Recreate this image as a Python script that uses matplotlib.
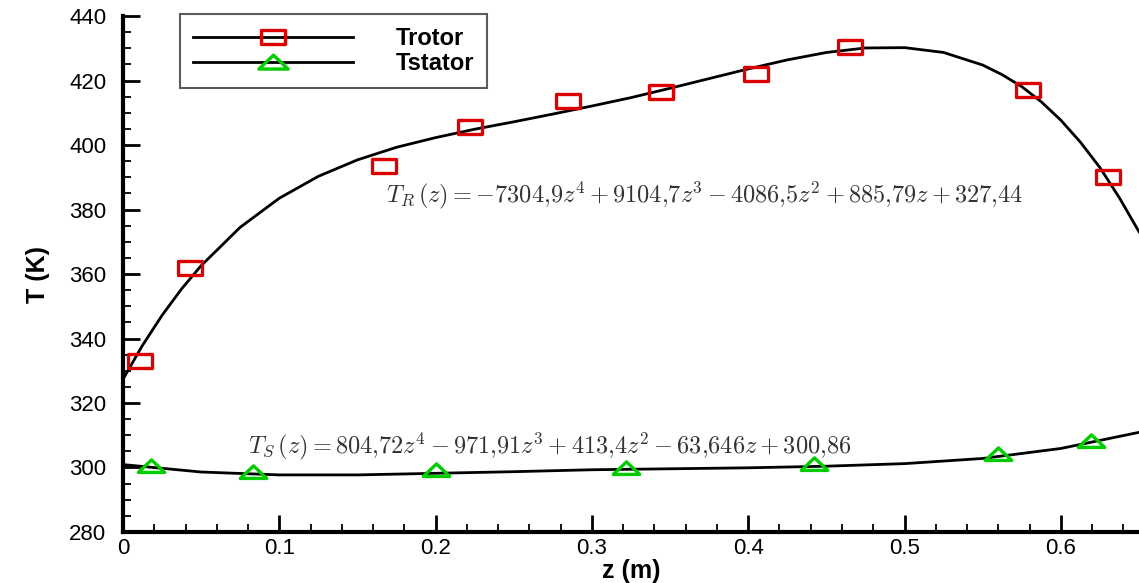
import numpy as np
import matplotlib.pyplot as plt
from matplotlib.path import Path
from matplotlib.ticker import MultipleLocator

# measured points (markers)
z_rotor = [0.011, 0.043, 0.167, 0.222, 0.285, 0.344, 0.405, 0.465, 0.579, 0.630]
t_rotor = [333.0, 362.0, 393.5, 405.6, 413.6, 416.4, 422.0, 430.4, 417.0, 390.0]
z_stator = [0.018, 0.083, 0.200, 0.322, 0.442, 0.560, 0.619]
t_stator = [300.5, 298.6, 299.2, 299.8, 301.0, 304.2, 308.2]

# fitted curves
z_fit_r = [0, 0.0125, 0.025, 0.0375, 0.05, 0.075, 0.1, 0.125, 0.15, 0.175, 0.2,
           0.225, 0.25, 0.275, 0.3, 0.325, 0.35, 0.375, 0.4, 0.425, 0.45,
           0.475, 0.5, 0.525, 0.55, 0.5625, 0.575, 0.5875, 0.6, 0.6125, 0.625,
           0.6375, 0.65]
t_fit_r = [327.4, 337.9, 347.2, 355.4, 362.6, 374.5, 383.5, 390.3, 395.4, 399.3, 402.3,
           404.9, 407.2, 409.6, 412.1, 414.7, 417.6, 420.6, 423.6, 426.4, 428.7,
           430.1, 430.2, 428.7, 424.8, 421.8, 418.1, 413.4, 407.7, 400.9, 393.0,
           383.6, 373.1]
z_fit_s = [0, 0.05, 0.1, 0.15, 0.2, 0.25, 0.3, 0.35, 0.4, 0.45, 0.5, 0.55, 0.6, 0.65]
t_fit_s = [300.9, 298.6, 297.7, 297.7, 298.2, 298.7, 299.3, 299.6, 299.9, 300.4,
           301.2, 302.8, 305.9, 310.9]

eq_rotor = r'$T_R\,(z) = -7304{,}9z^4 + 9104{,}7z^3 - 4086{,}5z^2 + 885{,}79z + 327{,}44$'
eq_stator = r'$T_S\,(z) = 804{,}72z^4 - 971{,}91z^3 + 413{,}4z^2 - 63{,}646z + 300{,}86$'

plt.rcParams['mathtext.fontset'] = 'cm'
plt.rcParams['font.family'] = 'Liberation Sans'

# wide markers (the original is stretched horizontally)
square = Path([(-1, -0.62), (1, -0.62), (1, 0.62), (-1, 0.62), (-1, -0.62)],
              [Path.MOVETO, Path.LINETO, Path.LINETO, Path.LINETO, Path.CLOSEPOLY])
triangle = Path([(-1, -0.45), (1, -0.45), (0, 0.5), (-1, -0.45)],
                [Path.MOVETO, Path.LINETO, Path.LINETO, Path.CLOSEPOLY])

red = '#dd0000'
green = '#00cc00'

fig = plt.figure(figsize=(11.39, 5.83), dpi=100)
ax = fig.add_axes([0.108, 0.0875, 0.892, 0.885])

ax.plot(z_fit_r, t_fit_r, c='k', lw=2)
ax.plot(z_fit_s, t_fit_s, c='k', lw=2)
ax.plot(z_rotor, t_rotor, ls='none', marker=square, ms=17, mfc='none',
        mec=red, mew=2.4)
ax.plot(z_stator, t_stator, ls='none', marker=triangle, ms=19, mfc='none',
        mec=green, mew=2.4)

# legend entries
ax.plot([], [], c='k', lw=2, marker=square, ms=17, mfc='none', mec=red,
        mew=2.4, label='Trotor')
ax.plot([], [], c='k', lw=2, marker=triangle, ms=21, mfc='none', mec=green,
        mew=2.4, label='Tstator')
leg = ax.legend(loc='upper left', bbox_to_anchor=(0.056, 1.004), handlelength=6.8,
                prop={'weight': 'bold', 'size': 17}, frameon=True, fancybox=False,
                borderpad=0.55, labelspacing=0.1, handletextpad=1.8,
                borderaxespad=0)
leg.get_frame().set_edgecolor('#333333')
leg.get_frame().set_linewidth(1.5)

ax.text(0.168, 384.5, eq_rotor, fontsize=17.5, color='#333333', va='center')
ax.text(0.08, 306.6, eq_stator, fontsize=17.5, color='#333333', va='center')

ax.set_xlim(0, 0.65)
ax.set_ylim(280, 440)
ax.xaxis.set_minor_locator(MultipleLocator(0.02))
ax.yaxis.set_major_locator(MultipleLocator(20))
ax.yaxis.set_minor_locator(MultipleLocator(5))
ax.set_xticks(np.arange(0, 0.61, 0.1))
ax.set_xticklabels(['0', '0.1', '0.2', '0.3', '0.4', '0.5', '0.6'])
ax.tick_params(which='major', direction='in', length=12, width=2, labelsize=16)
ax.tick_params(which='minor', direction='in', length=6, width=1.3)
ax.tick_params(axis='x', pad=4)
ax.tick_params(axis='y', pad=12)

for s in ['top', 'right']:
    ax.spines[s].set_visible(False)
for s in ['left', 'bottom']:
    ax.spines[s].set_linewidth(3)

ax.set_xlabel('z (m)', fontsize=18, fontweight='bold', labelpad=0)
ax.set_ylabel('T (K)', fontsize=18, fontweight='bold', labelpad=14)

fig.savefig('out.png')
